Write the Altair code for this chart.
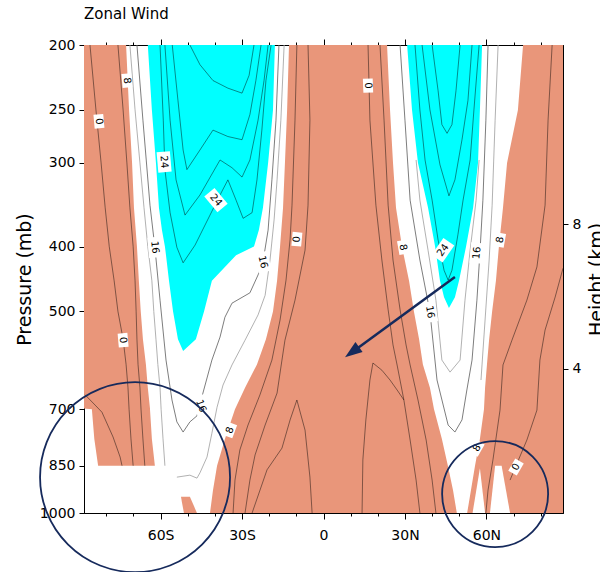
import altair as alt
import pandas as pd

# ---------------- axes / scales ----------------
LAT_DOMAIN = [-88.2, 88.2]
P_DOMAIN = [200, 1000]
P_TICKS = [200, 250, 300, 400, 500, 700, 850, 1000]
LAT_MAJOR = [-60, -30, 0, 30, 60]
LAT_MINOR = [-80, -70, -50, -40, -20, -10, 10, 20, 40, 50, 70, 80]
HEIGHT_DOMAIN = [0, 12.96]
HEIGHT_TICKS = [4, 8]

LEV = [200, 250, 300, 350, 400, 450, 500, 550, 600, 650, 700, 775, 850, 925, 1000]

# ---------------- filled regions (lat of left / right edge at each pressure) ----------------
SL_P = [200, 250, 300, 350, 400, 450, 500, 550, 600, 650, 698, 700, 775, 850]
SL_LO = [-88.2, -88.2, -88.2, -88.2, -88.2, -88.2, -88.2, -88.2, -88.2, -88.2, -88.2, -85.3, -84.4, -83.0]
SL_HI = [-72.7, -71.6, -70.5, -69.8, -68.7, -68.0, -67.3, -66.5, -65.4, -64.7, -63.9, -63.9, -63.2, -62.1]

SC_P = LEV
SC_LO = [-12.7, -13.4, -14.2, -14.9, -16.0, -17.1, -18.6, -21.2, -24.5, -28.9, -32.6, -36.3, -39.2, -40.7, -41.8]
SC_HI = [23.4, 24.5, 25.6, 26.7, 28.9, 31.5, 33.3, 35.2, 36.6, 39.2, 40.7, 43.6, 45.8, 47.7, 49.1]

SR_P = LEV
SR_LO = [73.5, 71.6, 67.6, 66.1, 64.6, 63.5, 62.1, 61.0, 60.2, 59.5, 59.1, 57.6, 55.8, 54.3, 52.9]
SR_HI = [88.2, 88.2, 88.2, 88.2, 88.2, 88.2, 88.2, 88.2, 88.2, 88.2, 88.2, 88.2, 88.2, 88.2, 88.2]

SS_P = [946, 1000]
SS_LO = [-52.5, -51.4]
SS_HI = [-49.2, -46.6]

CL_P = [200, 250, 300, 350, 378, 400, 412, 450, 500, 550, 573]
CL_LO = [-64.7, -63.2, -61.7, -60.6, -59.5, -58.4, -58.0, -56.9, -55.4, -53.6, -51.7]
CL_HI = [-17.9, -18.6, -20.4, -22.3, -23.8, -25.6, -32.2, -41.1, -44.0, -47.0, -51.7]

CR_P = [200, 250, 300, 350, 400, 450, 476, 494]
CR_LO = [30.8, 32.6, 34.8, 38.5, 41.1, 42.9, 44.4, 46.2]
CR_HI = [58.4, 57.6, 56.9, 55.1, 52.5, 49.9, 48.4, 46.2]

# masked (below ground) notches near 60N
T1_P = [857, 1000]
T1_LO = [57.6, 54.9]
T1_HI = [57.6, 59.5]
T2_P = [850, 1000]
T2_LO = [63.2, 61.3]
T2_HI = [65.6, 68.7]

# ---------------- contour lines (lat, pressure) ----------------
LINES_DARK = {
    "A": ([-86.0, -83.8, -81.9, -80.4, -78.9, -77.1, -75.7, -73.8, -72.7, -72.0, -71.6, -70.9, -70.1], LEV[:13]),
    "B": ([-75.7, -73.8, -72.4, -71.3, -70.1, -69.4, -69.0, -68.7, -68.3, -67.6, -67.2, -66.5, -65.8], LEV[:13]),
    "C": ([-87.8, -84.1, -81.6, -77.5, -74.9, -74.2], [666, 690, 707, 770, 825, 850]),
    "E": ([-9.8, -10.5, -11.6, -12.3, -13.8, -16.0, -19.0, -23.4, -27.8, -30.8, -32.6, -33.3],
          [200, 259, 347, 390, 449, 515, 591, 666, 739, 805, 893, 1000]),
    "F": ([-5.7, -5.0, -5.7, -6.8, -10.5, -14.2, -15.3, -17.1, -21.5, -25.2, -27.1, -28.9],
          [200, 259, 347, 405, 481, 552, 591, 662, 739, 819, 893, 1000]),
    "G": ([-26.3, -20.8, -15.3, -12.3, -9.8, -6.8, -5.0, -4.2], [1000, 862, 800, 726, 678, 752, 884, 1000]),
    "H": ([16.4, 17.1, 19.3, 21.5, 23.8, 25.6, 27.1, 29.6, 31.9, 34.1, 35.5],
          [200, 259, 347, 419, 497, 561, 601, 678, 778, 893, 1000]),
    "I": ([20.8, 22.3, 23.8, 25.6, 28.2, 30.4, 31.9, 34.8, 37.8, 40.0, 41.4],
          [200, 259, 347, 419, 497, 561, 601, 678, 778, 893, 1000]),
    "R": ([14.2, 14.5, 15.6, 17.1, 18.2, 21.5, 24.5, 27.1, 29.6], [1000, 833, 726, 633, 597, 612, 633, 655, 678]),
    "L": ([84.2, 82.7, 81.6, 78.6, 74.9, 69.4, 66.1, 65.0, 62.4, 60.6, 59.8],
          [200, 259, 347, 429, 481, 552, 601, 702, 833, 924, 1000]),
    "K": ([88.2, 85.3, 81.6, 79.7, 78.6, 74.9, 70.9, 68.7], [431, 476, 533, 591, 702, 778, 850, 893]),
    "Rc1": ([33.7, 35.5, 37.4, 40.0, 42.2, 44.4, 45.9, 47.3, 49.5, 51.4, 54.0, 55.4, 57.3],
            [200, 250, 297, 341, 391, 434, 449, 434, 384, 341, 297, 250, 200]),
    "Rc2": ([36.3, 39.2, 42.9, 46.2, 48.4, 51.0, 53.2, 54.7], [200, 250, 302, 336, 318, 277, 242, 200]),
    "Rc3": ([40.0, 42.2, 43.6, 45.5, 47.3, 48.8, 50.3], [200, 234, 263, 271, 263, 234, 200]),
    "W1": ([-60.2, -59.0, -58.4, -56.5, -54.0, -51.7, -47.3, -41.8, -38.1, -35.2, -32.2, -29.6, -26.3, -24.5, -22.7, -21.2, -19.3],
           [200, 259, 307, 356, 401, 423, 398, 359, 335, 318, 341, 363, 356, 318, 268, 226, 200]),
    "W2": ([-58.4, -56.5, -54.3, -51.0, -45.5, -38.1, -33.7, -30.0, -27.1, -24.1, -21.9, -20.4],
           [200, 259, 318, 359, 335, 297, 305, 315, 297, 259, 226, 200]),
    "W3": ([-55.7, -53.6, -51.7, -50.3, -45.5, -40.7, -35.2, -30.0, -27.1, -24.9, -23.0],
           [200, 242, 287, 307, 287, 268, 274, 277, 254, 226, 200]),
    "W4": ([-49.2, -45.5, -40.7, -35.2, -30.0, -27.4, -25.6], [200, 214, 226, 232, 236, 222, 200]),
}
LINES_MID = {
    "L16": ([-68.7, -66.5, -63.9, -62.1, -60.2, -58.0, -55.8, -54.0, -51.7, -49.2, -46.6, -44.4, -41.1, -38.1,
             -36.3, -33.7, -27.1, -24.1, -22.3, -20.4, -19.0, -17.5, -16.4],
            [200, 259, 347, 401, 481, 591, 678, 731, 757, 731, 716, 662, 591, 546, 510, 486, 469, 441, 422, 378,
             318, 259, 200]),
    "M": ([28.2, 30.0, 31.9, 35.5, 39.2, 41.8, 45.9, 48.4, 51.0, 52.8, 54.7, 56.5, 57.6, 58.7, 59.8, 60.6],
          [200, 259, 341, 419, 501, 633, 739, 757, 726, 655, 591, 481, 409, 341, 259, 200]),
}
LINES_LIGHT = {
    "P": ([-71.3, -69.4, -67.6, -66.1, -64.7, -63.2, -62.5, -61.7, -61.0, -60.2, -59.8, -59.1, -58.4], LEV[:13]),
    "Q": ([-54.0, -49.2, -46.6, -45.5, -42.9, -41.1, -39.2, -37.0, -33.7, -28.9, -24.1, -21.5, -19.7, -18.2,
           -17.1, -15.7, -14.5],
          [884, 878, 887, 871, 825, 760, 695, 644, 601, 552, 506, 473, 419, 365, 318, 259, 200]),
    "N": ([34.1, 35.5, 38.5, 41.4, 43.6, 46.6, 50.3, 52.1, 54.0, 56.2, 57.3],
          [297, 341, 405, 481, 591, 616, 591, 481, 405, 341, 297]),
    "S": ([64.3, 63.2, 62.1, 61.0, 59.5, 58.0], [200, 259, 347, 419, 515, 633]),
}

# ---------------- contour labels ----------------
LBL_TEXT = ["8", "0", "0", "24", "24", "16", "16", "16", "8", "0", "0", "8", "24", "16", "16", "8", "8", "0"]
LBL_LAT = [-72.4, -82.7, -73.8, -58.7, -39.6, -62.1, -22.3, -45.1, -34.4, -9.8, 16.4, 29.3, 44.0, 39.2, 56.5, 65.0, 56.5, 70.9]
LBL_P = [226, 260, 552, 299, 341, 401, 422, 692, 752, 390, 230, 401, 405, 501, 409, 391, 800, 854]
LBL_ANG = [85, 85, 85, 85, 50, 85, 77, 70, 290, 275, 88, 80, 305, 80, 275, 280, 300, 300]

# ---------------- annotations ----------------
CIRCLE_LAT = [-69.4, 63.2]
CIRCLE_P = [884, 937]
ARROW_LAT = [48.4, 12.9]
ARROW_P = [444, 566]
ARROW_TIP_LAT = [10.5]
ARROW_TIP_P = [575]

SALMON = "#E9967A"
CYAN = "#00FFFF"
NAVY = "#162a5c"
FONT = "DejaVu Sans"


# ---------------- build tables ----------------
def ring_rows(name, ps, los, his):
    """Polygon ring: down the left edge, back up the right edge."""
    pts = list(zip(los, ps)) + list(zip(his[::-1], ps[::-1]))
    return [dict(reg=name, k=i, lat=la, p=p) for i, (la, p) in enumerate(pts)]

salmon_df = pd.DataFrame(
    ring_rows("SL", SL_P, SL_LO, SL_HI)
    + ring_rows("SC", SC_P, SC_LO, SC_HI)
    + ring_rows("SR", SR_P, SR_LO, SR_HI)
    + ring_rows("SS", SS_P, SS_LO, SS_HI)
)
cyan_df = pd.DataFrame(ring_rows("CL", CL_P, CL_LO, CL_HI) + ring_rows("CR", CR_P, CR_LO, CR_HI))
mask_df = pd.DataFrame(ring_rows("T1", T1_P, T1_LO, T1_HI) + ring_rows("T2", T2_P, T2_LO, T2_HI))


def line_rows(d):
    rows = []
    for name, (lats, ps) in d.items():
        for i, (la, p) in enumerate(zip(lats, ps)):
            rows.append(dict(line=name, k=i, lat=la, p=p))
    return pd.DataFrame(rows)

dark_df = line_rows(LINES_DARK)
mid_df = line_rows(LINES_MID)
light_df = line_rows(LINES_LIGHT)

lbl_df = pd.DataFrame(dict(t=LBL_TEXT, lat=LBL_LAT, p=LBL_P, ang=LBL_ANG))
lbl_df["n"] = lbl_df["t"].str.len()
circ_df = pd.DataFrame(dict(lat=CIRCLE_LAT, p=CIRCLE_P, c=["big", "small"]))
arrow_df = pd.DataFrame(dict(lat=ARROW_LAT, p=ARROW_P, k=[0, 1]))
head_df = pd.DataFrame(dict(lat=ARROW_TIP_LAT, p=ARROW_TIP_P))


def XS():
    return alt.Scale(domain=LAT_DOMAIN, nice=False, zero=False)


def YS():
    return alt.Scale(type="log", domain=P_DOMAIN, reverse=True, nice=False)

lat_expr = "datum.value < 0 ? (-datum.value) + 'S' : (datum.value > 0 ? datum.value + 'N' : '0')"
ax_bottom_major = alt.Axis(orient="bottom", values=LAT_MAJOR, labelExpr=lat_expr, tickSize=6,
                           labelFontSize=14, labelPadding=9, title=None, labelFlush=False, domain=True)
ax_bottom_minor = alt.Axis(orient="bottom", values=LAT_MINOR, labels=False, tickSize=3, title=None)
ax_top_major = alt.Axis(orient="top", values=LAT_MAJOR, labels=False, tickSize=6, title=None, domain=True)
ax_top_minor = alt.Axis(orient="top", values=LAT_MINOR, labels=False, tickSize=3, title=None)
ax_left = alt.Axis(orient="left", values=P_TICKS, format="d", tickSize=5, labelFontSize=14, labelPadding=4,
                   title="Pressure (mb)", titleFontSize=19, titlePadding=5, labelFlush=False,
                   labelOverlap=False, domain=True)


def pos(xaxis=None, yaxis=None):
    return dict(x=alt.X("lat:Q", scale=XS(), axis=xaxis), y=alt.Y("p:Q", scale=YS(), axis=yaxis))


def fill_layer(df, color):
    return alt.Chart(df).mark_line(fill=color, stroke=color, strokeWidth=0, opacity=1).encode(
        detail="reg:N", order="k:Q", **pos())


def line_layer(df, color, opacity, width, xaxis=None, yaxis=None):
    return alt.Chart(df).mark_line(color=color, opacity=opacity, strokeWidth=width).encode(
        detail="line:N", order="k:Q", **pos(xaxis, yaxis))

salmon = fill_layer(salmon_df, SALMON)
cyan = fill_layer(cyan_df, CYAN)
masks = fill_layer(mask_df, "white")
light = line_layer(light_df, "#a8a8a8", 1, 0.9, ax_bottom_minor)
mid = line_layer(mid_df, "#6e6e6e", 1, 0.9, ax_top_major)
dark = line_layer(dark_df, "#000000", 0.5, 0.9, ax_bottom_major, ax_left)

BOX1 = "M-1,-0.7L1,-0.7L1,0.7L-1,0.7Z"
BOX2 = "M-1,-0.65L1,-0.65L1,0.65L-1,0.65Z"
box1 = alt.Chart(lbl_df).transform_filter("datum.n == 1").mark_point(
    shape=BOX1, size=196, filled=True, color="white", opacity=1, strokeWidth=0
).encode(angle=alt.Angle("ang:Q", scale=None), **pos())
box2 = alt.Chart(lbl_df).transform_filter("datum.n == 2").mark_point(
    shape=BOX2, size=420, filled=True, color="white", opacity=1, strokeWidth=0
).encode(angle=alt.Angle("ang:Q", scale=None), **pos())
texts = alt.Chart(lbl_df).mark_text(font=FONT, fontSize=10, color="black", align="center", baseline="middle").encode(
    text="t:N", angle=alt.Angle("ang:Q", scale=None), **pos(ax_top_minor))

circ_big = alt.Chart(circ_df).transform_filter("datum.c == 'big'").mark_point(
    shape="circle", size=36100, filled=False, color=NAVY, strokeWidth=1.8, opacity=1).encode(**pos())
circ_small = alt.Chart(circ_df).transform_filter("datum.c == 'small'").mark_point(
    shape="circle", size=11236, filled=False, color=NAVY, strokeWidth=1.8, opacity=1).encode(**pos())
arrow = alt.Chart(arrow_df).mark_line(color=NAVY, strokeWidth=2.5).encode(order="k:Q", **pos())
head = alt.Chart(head_df).mark_point(shape="M0,-1L0.7,1L-0.7,1Z", size=300, filled=True, color=NAVY,
                                     opacity=1, angle=234, strokeWidth=0).encode(**pos())

hlayer = alt.Chart(pd.DataFrame(dict(h=HEIGHT_TICKS))).mark_point(opacity=0).encode(
    y=alt.Y("h:Q", scale=alt.Scale(domain=HEIGHT_DOMAIN, nice=False, zero=False),
            axis=alt.Axis(orient="right", values=HEIGHT_TICKS, format="d", tickSize=5, labelFontSize=14,
                          labelPadding=4, title="Height (km)", titleFontSize=19, titleAngle=270,
                          titleBaseline="top", titlePadding=7, labelFlush=False, domain=True))
)

chart = alt.layer(
    salmon, cyan, masks, light, mid, dark, box1, box2, texts, circ_big, circ_small, arrow, head, hlayer
).resolve_scale(x="independent", y="independent").properties(
    width=479, height=468,
    background="white",
    autosize=alt.AutoSizeParams(type="none"),
    padding={"left": 84, "top": 45, "right": 37, "bottom": 59},
    title=alt.TitleParams("Zonal Wind", anchor="start", frame="group", fontSize=15, fontWeight="normal",
                          font=FONT, color="black", offset=4, baseline="alphabetic"),
).configure_view(stroke="black", strokeWidth=1).configure_axis(
    grid=False, domain=False, domainColor="black", domainWidth=1, labelFont=FONT, titleFont=FONT,
    labelColor="black", tickColor="black", titleColor="black", titleFontWeight="normal"
)

chart.save("out.html", embed_options={"renderer": "svg", "actions": False})
